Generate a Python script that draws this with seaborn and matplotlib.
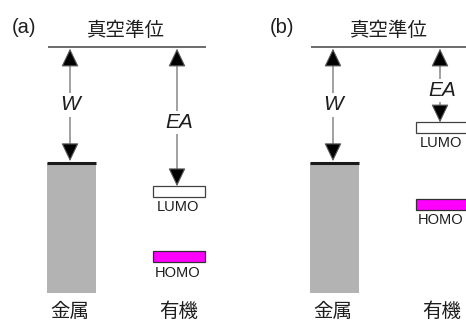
import matplotlib
matplotlib.use("Agg")
import matplotlib.pyplot as plt
from matplotlib.patches import FancyArrowPatch, Rectangle
import seaborn as sns

# Energy-level diagram: metal work function vs. organic electron affinity
panel_labels = ["(a)", "(b)"]
vacuum_label = "真空準位"
column_labels = ["金属", "有機"]
level_labels = ["LUMO", "HOMO"]

# depths below the vacuum level (eV)
work_function = [5.0, 5.0]          # metal Fermi level
electron_affinity = [6.0, 3.25]     # LUMO (top edge)
homo_depth = [8.8, 6.55]            # HOMO (top edge)
metal_bottom = 10.6

sns.set_theme(style="white")
plt.rcParams["font.family"] = ["Liberation Sans", "DejaVu Sans"]
CJK = ["Noto Sans CJK JP", "DejaVu Sans"]
TXT = "#1e1e1e"

PX = 23.2            # pixels per eV
fig = plt.figure(figsize=(4.66, 3.2), dpi=100)
ax = fig.add_axes([0, 0, 1, 1])
ax.set_xlim(0, 466)
ax.set_ylim(-(320 - 47) / PX, 47 / PX)
ax.axis("off")

offsets = [0, 263]
label_x = [24, 282]
band_h = 0.47
arrow_style = "<|-|>,head_length=11.5,head_width=5.5"


def vertical_arrow(x, y_top, y_bot):
    ax.add_patch(FancyArrowPatch((x, y_top), (x, y_bot), arrowstyle=arrow_style,
                                 mutation_scale=1, shrinkA=0, shrinkB=0,
                                 lw=0.8, ec="#5a5a5a", fc="black", zorder=3))


for i, off in enumerate(offsets):
    # panel label and vacuum level
    ax.text(label_x[i], 0.86, panel_labels[i], fontsize=14.5, ha="center", va="center", color=TXT)
    ax.plot([off + 48, off + 206], [0, 0], color="#444444", lw=1.1, solid_capstyle="butt")
    ax.text(off + 126, 0.69, vacuum_label, family=CJK, fontsize=14, ha="center", va="center",
            color=TXT)

    # metal
    wf = work_function[i]
    ax.bar(off + 71.5, -(metal_bottom - wf), bottom=-wf, width=49, color="#b3b3b3",
           edgecolor="none", zorder=1)
    ax.plot([off + 47, off + 96], [-wf, -wf], color="#1a1a1a", lw=2.2, solid_capstyle="butt", zorder=2)
    vertical_arrow(off + 70, -0.07, -wf + 0.08)
    ax.text(off + 70, -wf / 2, "W", style="italic", fontsize=15, ha="center", va="center",
            color=TXT, bbox=dict(fc="white", ec="none", pad=1.5), zorder=4)

    # organic levels
    ea = electron_affinity[i]
    hd = homo_depth[i]
    ax.add_patch(Rectangle((off + 153, -ea - band_h), 52, band_h, fc="white", ec="#404040",
                           lw=0.9, zorder=2))
    ax.add_patch(Rectangle((off + 153, -hd - band_h), 52, band_h, fc="#ff00ff", ec="#303030",
                           lw=0.9, zorder=2))
    vertical_arrow(off + 177, -0.07, -ea)
    ax.text(off + 179, -ea / 2 - 0.25, "EA", style="italic", fontsize=15, ha="center", va="center",
            color=TXT, bbox=dict(fc="white", ec="none", pad=1.5), zorder=4)
    ax.text(off + 178, -ea - band_h - 0.43, level_labels[0], fontsize=10.5, ha="center", va="center",
            color=TXT)
    ax.text(off + 178, -hd - band_h - 0.45, level_labels[1], fontsize=10.5, ha="center", va="center",
            color=TXT)

    # column captions
    ax.text(off + 70, -11.38, column_labels[0], family=CJK, fontsize=14, ha="center", va="center",
            color=TXT)
    ax.text(off + 179, -11.38, column_labels[1], family=CJK, fontsize=14, ha="center", va="center",
            color=TXT)

fig.savefig("out.png", dpi=100)
